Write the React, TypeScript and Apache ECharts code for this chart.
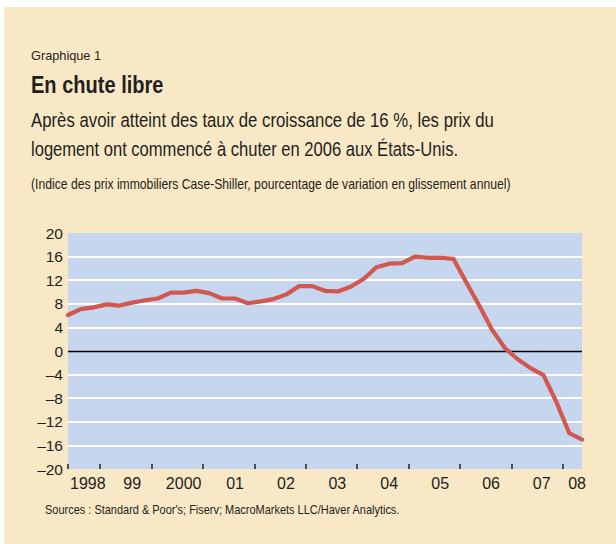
import React, { useEffect, useRef } from "react";
import * as echarts from "echarts";

// Quarterly observations, 1998 T2 to 2008 T2
const quarters: string[] = [
  "1998T2", "1998T3", "1998T4",
  "1999T1", "1999T2", "1999T3", "1999T4",
  "2000T1", "2000T2", "2000T3", "2000T4",
  "2001T1", "2001T2", "2001T3", "2001T4",
  "2002T1", "2002T2", "2002T3", "2002T4",
  "2003T1", "2003T2", "2003T3", "2003T4",
  "2004T1", "2004T2", "2004T3", "2004T4",
  "2005T1", "2005T2", "2005T3", "2005T4",
  "2006T1", "2006T2", "2006T3", "2006T4",
  "2007T1", "2007T2", "2007T3", "2007T4",
  "2008T1", "2008T2",
];

// Case-Shiller index, year-on-year % change
const growth: number[] = [
  6.1, 7.1, 7.4,
  7.9, 7.7, 8.2, 8.6,
  8.9, 9.9, 9.9, 10.2,
  9.8, 8.9, 8.9, 8.1,
  8.4, 8.8, 9.6, 11.0,
  11.0, 10.2, 10.1, 10.9,
  12.2, 14.2, 14.8, 14.9,
  16.0, 15.8, 15.8, 15.6,
  11.6, 7.7, 3.6, 0.5,
  -1.4, -2.9, -4.1, -8.6,
  -13.9, -15.0,
];

// x axis: year ticks and label positions
const yearTicks: number[] = [1998.375, 1999, 2000, 2001, 2002, 2003, 2004, 2005, 2006, 2007, 2008];
const xLabelPositions: number[] = [1998.76, 1999.625, 2000.625, 2001.625, 2002.615, 2003.615, 2004.625, 2005.615, 2006.605, 2007.59, 2008.28];
const xLabelTexts: string[] = ["1998", "99", "2000", "01", "02", "03", "04", "05", "06", "07", "08"];

// y axis
const yMin = -20;
const yMax = 20;
const yStep = 4;

const SANS = "'Liberation Sans', Arial, sans-serif";
const INK = "#231f20";

function quarterToYear(q: string): number {
  const y = parseInt(q.slice(0, 4), 10);
  const n = parseInt(q.slice(5), 10);
  return y + (n - 1) * 0.25 + 0.125;
}

export default function App() {
  const ref = useRef<HTMLDivElement>(null);

  useEffect(() => {
    if (!ref.current) return;
    const chart = echarts.init(ref.current, null, { renderer: "svg" });

    const data = quarters.map((q, i) => [quarterToYear(q), growth[i]]);
    const nLines = (yMax - yMin) / yStep + 1;
    const whiteColors: string[] = [];
    const zeroColors: string[] = [];
    for (let i = 0; i < nLines; i++) {
      const v = yMin + i * yStep;
      const edge = v === yMin || v === yMax;
      whiteColors.push(edge || v === 0 ? "rgba(0,0,0,0)" : "#ffffff");
      zeroColors.push(v === 0 ? "#000000" : "rgba(0,0,0,0)");
    }

    const xFirst = quarterToYear(quarters[0]);
    const xLast = quarterToYear(quarters[quarters.length - 1]);

    // condensed look: horizontal compression of a regular sans face
    const text = (t: string, x: number, y: number, font: string, sx: number) => ({
      type: "text",
      x,
      y,
      scaleX: sx,
      silent: true,
      style: { text: t, font, fill: INK, textAlign: "left", textVerticalAlign: "middle" },
    });

    chart.setOption({
      animation: false,
      backgroundColor: "#f9e8c5",
      graphic: [
        { type: "rect", shape: { x: 0, y: 0, width: 616, height: 7 }, style: { fill: "#ffffff" }, silent: true },
        { type: "rect", shape: { x: 0, y: 0, width: 4, height: 544 }, style: { fill: "#ffffff" }, silent: true },
        text("Graphique 1", 31, 55, `13px ${SANS}`, 0.98),
        text("En chute libre", 31, 85, `bold 24px ${SANS}`, 0.835),
        text("Après avoir atteint des taux de croissance de 16 %, les prix du", 31, 120.5, `19.5px ${SANS}`, 0.86),
        text("logement ont commencé à chuter en 2006 aux États-Unis.", 31, 150, `19.5px ${SANS}`, 0.85),
        text("(Indice des prix immobiliers Case-Shiller, pourcentage de variation en glissement annuel)", 31, 184, `14.5px ${SANS}`, 0.84),
        text("Sources : Standard & Poor's; Fiserv; MacroMarkets LLC/Haver Analytics.", 45, 510, `13px ${SANS}`, 0.845),
      ],
      grid: {
        left: 68,
        right: 34,
        top: 233,
        bottom: 75,
        show: true,
        backgroundColor: "#c5d6ee",
        borderWidth: 0,
        containLabel: false,
      },
      xAxis: {
        type: "value",
        min: xFirst,
        max: xLast,
        axisLine: { show: false, onZero: false },
        splitLine: { show: false },
        axisTick: {
          show: true,
          inside: true,
          length: 5,
          customValues: yearTicks,
          lineStyle: { color: INK, width: 1.5 },
        },
        axisLabel: {
          show: true,
          customValues: xLabelPositions,
          margin: 6,
          color: INK,
          fontFamily: SANS,
          fontSize: 16,
          formatter: (v: number) => {
            let best = 0;
            let d = Infinity;
            xLabelPositions.forEach((p, i) => {
              const dd = Math.abs(p - v);
              if (dd < d) { d = dd; best = i; }
            });
            return xLabelTexts[best];
          },
        },
      },
      yAxis: [
        {
          type: "value",
          min: yMin,
          max: yMax,
          interval: yStep,
          axisLine: { show: false },
          axisTick: { show: false },
          axisLabel: {
            color: INK,
            fontFamily: SANS,
            fontSize: 15.5,
            margin: 5,
            formatter: (v: number) => (v < 0 ? "\u2013" + Math.abs(v) : String(v)),
          },
          splitLine: { show: true, lineStyle: { color: whiteColors, width: 2 } },
        },
        {
          type: "value",
          min: yMin,
          max: yMax,
          interval: yStep,
          position: "left",
          axisLine: { show: false },
          axisTick: { show: false },
          axisLabel: { show: false },
          splitLine: { show: true, lineStyle: { color: zeroColors, width: 1.3 } },
        },
      ],
      series: [
        {
          type: "line",
          data,
          yAxisIndex: 0,
          showSymbol: false,
          symbol: "none",
          lineStyle: { color: "#d2574f", width: 4.2, cap: "round", join: "round" },
          z: 5,
        },
      ],
    });

    return () => chart.dispose();
  }, []);

  return (
    <div
      ref={ref}
      style={{ position: "absolute", left: 0, top: 0, width: 616, height: 544 }}
    />
  );
}
